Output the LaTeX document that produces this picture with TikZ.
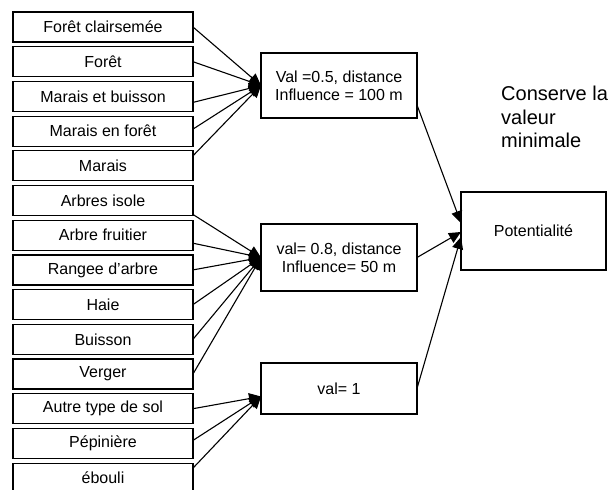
\documentclass[tikz,border=0pt]{standalone}
\usepackage{fontspec}
\setmainfont{Liberation Sans}
\usetikzlibrary{positioning,arrows.meta}
\tikzstyle{arrow} = [line width=1.1pt,-{Triangle[length=12pt,width=11pt]}]
\tikzstyle{tRect} = [rectangle, draw=black, line width=1.2pt, align=center, minimum width=180pt, minimum height=30pt, inner sep=0pt, outer sep=0pt, font=\fontsize{16}{18}\selectfont]
\tikzstyle{tMid} = [tRect, minimum width=156pt]

\begin{document}
\begin{tikzpicture}[x=1pt,y=-1pt,node distance=4.7pt]
        \useasboundingbox (0,0) rectangle (608,490);
        % middle column and result
        \node[tMid, minimum height=65pt] (ValA) at (339,85.5) {Val =0.5, distance\\ Influence = 100 m};
        \node[tMid, minimum height=67pt] (ValB) at (339,257.5) {val= 0.8, distance\\ Influence= 50 m};
        \node[tMid, minimum height=51pt] (ValC) at (339,388.5) {val= 1};
        \node[tRect, minimum width=145pt, minimum height=78pt] (Potent) at (533.5,231) {Potentialité};
        \node[align=left, anchor=north west, inner sep=0pt, font=\fontsize{20}{23.5}\selectfont] (Conserve) at (501,86) {Conserve la\\ valeur\\ minimale};
        % land cover classes
        \node[tRect] (ForetClair) at (103,27) {Forêt clairsemée};
        \node[tRect] (Foret) [below =of ForetClair] {Forêt};
        \node[tRect] (MaraisBuisson) [below =of Foret] {Marais et buisson};
        \node[tRect] (MaraisForet) [below =of MaraisBuisson] {Marais en forêt};
        \node[tRect] (Marais) [below =of MaraisForet] {Marais};
        \node[tRect] (ArbresIsole) [below =of Marais] {Arbres isole};
        \node[tRect] (ArbreFruit) [below =of ArbresIsole] {Arbre fruitier};
        \node[tRect] (Rangee) [below =of ArbreFruit] {Rangee d'arbre};
        \node[tRect] (Haie) [below =of Rangee] {Haie};
        \node[tRect] (Buisson) [below =of Haie] {Buisson};
        \node[tRect] (Verger) [below =of Buisson] {Verger};
        \node[tRect] (AutreSol) [below =of Verger] {Autre type de sol};
        \node[tRect] (Pepiniere) [below =of AutreSol] {Pépinière};
        \node[tRect] (Ebouli) [below =of Pepiniere] {ébouli};
        % connectors
        \draw[arrow] (ForetClair.east) -- (ValA.west);
        \draw[arrow] (Foret.east) -- (ValA.west);
        \draw[arrow] ([yshift=-6pt]MaraisBuisson.east) -- (ValA.west);
        \draw[arrow] ([yshift=2pt]MaraisForet.east) -- (ValA.west);
        \draw[arrow] ([yshift=10pt]Marais.east) -- (ValA.west);
        \draw[arrow] ([yshift=-14pt]ArbresIsole.east) -- (ValB.west);
        \draw[arrow] ([yshift=-8pt]ArbreFruit.east) -- (ValB.west);
        \draw[arrow] (Rangee.east) -- (ValB.west);
        \draw[arrow] (Haie.east) -- (ValB.west);
        \draw[arrow] (Buisson.east) -- (ValB.west);
        \draw[arrow] (Verger.east) -- (ValB.west);
        \draw[arrow] (AutreSol.east) -- ([yshift=-8pt]ValC.west);
        \draw[arrow] ([yshift=3pt]Pepiniere.east) -- ([yshift=-8pt]ValC.west);
        \draw[arrow] ([yshift=10pt]Ebouli.east) -- ([yshift=-8pt]ValC.west);
        \draw[arrow] ([yshift=-19.5pt]ValA.east) -- ([yshift=8pt]Potent.west);
        \draw[arrow] (ValB.east) -- ([yshift=-1pt]Potent.west);
        \draw[arrow] (ValC.east) -- ([yshift=-6pt]Potent.west);
\end{tikzpicture}
\end{document}
